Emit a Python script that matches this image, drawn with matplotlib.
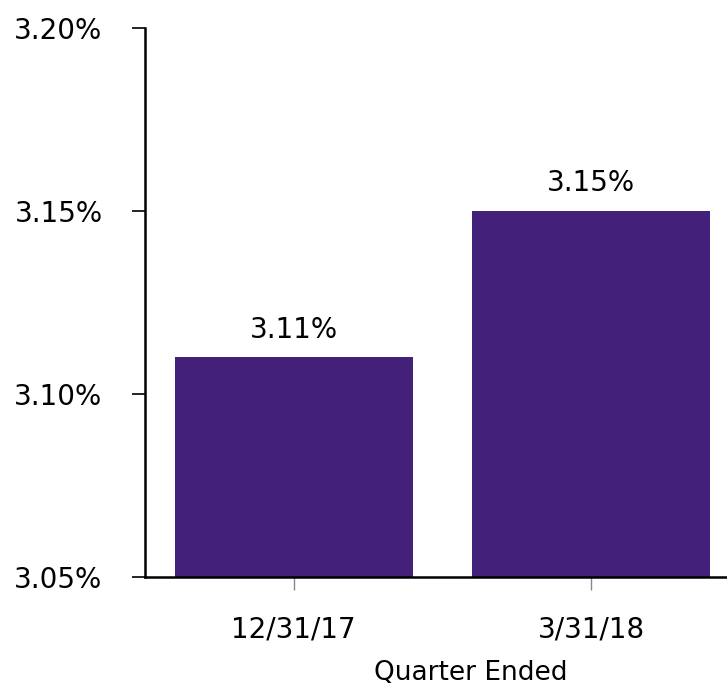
import matplotlib.pyplot as plt
from matplotlib.ticker import FuncFormatter

# datos del gráfico
trimestres = ['12/31/17', '3/31/18']
valores = [3.11, 3.15]
ticks_y = [3.05, 3.10, 3.15, 3.20]

color_barra = '#43207a'

fig = plt.figure(figsize=(7.27, 6.88), dpi=100)
ax = fig.add_axes([0.1994, 0.1613, 0.8006, 0.7980])

x = range(len(trimestres))
ax.bar(x, valores, width=0.8, color=color_barra, bottom=0)

# etiquetas sobre cada barra
for xi, v in zip(x, valores):
    ax.text(xi, v + 0.0038, f'{v:.2f}%', ha='center', va='bottom', fontsize=20)

ax.set_xlim(-0.5, 1.456)
ax.set_ylim(3.05, 3.20)
ax.set_yticks(ticks_y)
ax.yaxis.set_major_formatter(FuncFormatter(lambda v, p: f'{v:.2f}%'))
ax.set_xticks(list(x))
ax.set_xticklabels(trimestres)

ax.tick_params(axis='y', length=9.5, width=1.2, pad=21, labelsize=20, color='black')
ax.tick_params(axis='x', length=9.5, width=1.0, pad=18, labelsize=20, color='#888888')

ax.spines['top'].set_visible(False)
ax.spines['right'].set_visible(False)
ax.spines['left'].set_linewidth(1.8)
ax.spines['bottom'].set_linewidth(1.8)

ax.set_xlabel('Quarter Ended', fontsize=19)
ax.xaxis.set_label_coords(0.560, -0.151)

fig.savefig('out.png', dpi=100)
